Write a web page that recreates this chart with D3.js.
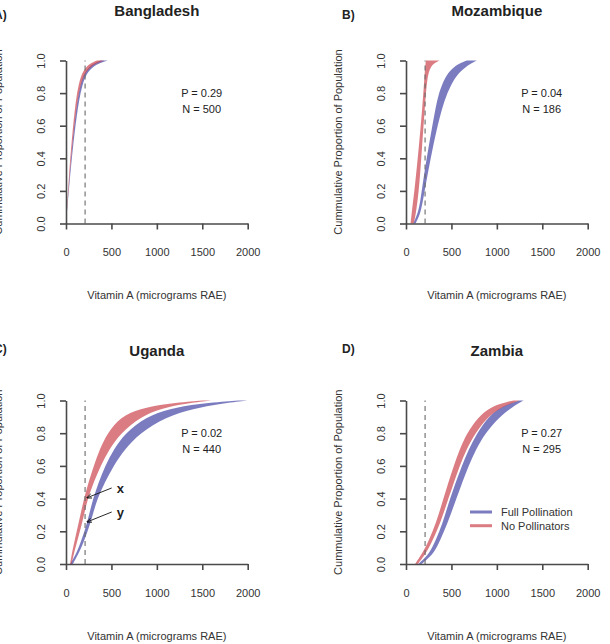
<!DOCTYPE html>
<html>
<head>
<meta charset="utf-8">
<script src="https://cdn.jsdelivr.net/npm/d3@7"></script>
<style>
  body { margin: 0; background: #ffffff; }
  svg { display: block; font-family: "Liberation Sans", Arial, sans-serif; }
</style>
</head>
<body>
<svg id="chart" width="610" height="644"></svg>
<script>
// ---------------- DATA ----------------
const countries = ["Bangladesh", "Mozambique", "Uganda", "Zambia"];
const panelLabels = ["A)", "B)", "C)", "D)"];
const pValues = ["0.29", "0.04", "0.02", "0.27"];
const nValues = [500, 186, 440, 295];
const seriesNames = ["Full Pollination", "No Pollinators"];
const xTicks = [0, 500, 1000, 1500, 2000];
const yTicks = [0, 0.2, 0.4, 0.6, 0.8, 1.0];
const requirement = 210; // dashed reference line (micrograms RAE)

// cumulative proportion levels at which band edges are read
const levels = [0, 0.05, 0.1, 0.2, 0.3, 0.4, 0.5, 0.6, 0.7, 0.8, 0.9, 0.95, 0.98, 1.0];

// Bangladesh
const bangladeshFullLo = [0, 6, 12, 26, 40, 55, 71, 90, 111, 138, 180, 235, 300, 380];
const bangladeshFullHi = [0, 8, 15, 31, 47, 64, 83, 104, 128, 158, 205, 270, 350, 460];
const bangladeshNoneLo = [0, 5, 10, 22, 34, 47, 62, 78, 97, 120, 158, 205, 260, 340];
const bangladeshNoneHi = [0, 7, 13, 27, 41, 56, 73, 92, 113, 140, 185, 250, 320, 420];
// Mozambique
const mozambiqueFullLo = [80, 120, 147, 173, 199, 228, 258, 290, 322, 360, 430, 504, 580, 670];
const mozambiqueFullHi = [105, 150, 173, 205, 238, 272, 308, 348, 393, 452, 540, 632, 710, 780];
const mozambiqueNoneLo = [50, 60, 70, 92, 111, 129, 146, 162, 177, 191, 203, 210, 215, 218];
const mozambiqueNoneHi = [85, 105, 118, 140, 155, 168, 180, 193, 206, 219, 237, 262, 300, 370];
// Uganda
const ugandaFullLo = [45, 100, 140, 205, 254, 298, 360, 430, 525, 650, 880, 1140, 1450, 1900];
const ugandaFullHi = [75, 125, 170, 240, 294, 345, 428, 522, 645, 810, 1100, 1400, 1700, 2000];
const ugandaNoneLo = [45, 60, 78, 118, 158, 198, 248, 305, 370, 455, 600, 810, 1100, 1500];
const ugandaNoneHi = [60, 82, 104, 154, 198, 240, 305, 380, 475, 600, 820, 1037, 1300, 1600];
// Zambia
const zambiaFullLo = [135, 235, 290, 370, 430, 485, 548, 614, 690, 780, 908, 1018, 1130, 1250];
const zambiaFullHi = [170, 280, 340, 420, 490, 555, 620, 688, 770, 871, 1030, 1147, 1230, 1294];
const zambiaNoneLo = [100, 160, 215, 295, 358, 412, 467, 525, 590, 669, 798, 908, 1030, 1184];
const zambiaNoneHi = [130, 200, 255, 340, 407, 467, 528, 590, 665, 761, 900, 1030, 1150, 1250];

const bands = {
  Bangladesh: [[bangladeshFullLo, bangladeshFullHi], [bangladeshNoneLo, bangladeshNoneHi]],
  Mozambique: [[mozambiqueFullLo, mozambiqueFullHi], [mozambiqueNoneLo, mozambiqueNoneHi]],
  Uganda: [[ugandaFullLo, ugandaFullHi], [ugandaNoneLo, ugandaNoneHi]],
  Zambia: [[zambiaFullLo, zambiaFullHi], [zambiaNoneLo, zambiaNoneHi]]
};

// Uganda annotations (data coords): label, from, to
const annotLabels = ["x", "y"];
const annotFrom = [[503, 0.465], [503, 0.318]];
const annotTo = [[231, 0.405], [231, 0.257]];

// ---------------- STYLE / LAYOUT ----------------
const fills = ["rgb(72,74,168)", "rgb(202,62,72)"];
const fillOpacity = [0.72, 0.68];
const axisColor = "#4a4a4a";
const panels = [
  { x0: 66,  x1: 247.7, y0: 60.5,  y1: 223.5, labelDy: -41.5, titleDy: -44.5 },
  { x0: 406, x1: 587.7, y0: 60.5,  y1: 223.5, labelDy: -41.5, titleDy: -44.5 },
  { x0: 66,  x1: 247.7, y0: 400.5, y1: 564,   labelDy: -47.5, titleDy: -44.5 },
  { x0: 406, x1: 587.7, y0: 400.5, y1: 564,   labelDy: -47.5, titleDy: -44.5 }
];

const svg = d3.select("#chart");
svg.append("rect").attr("width", 610).attr("height", 644).attr("fill", "#fff");

svg.append("defs").append("marker")
  .attr("id", "arrow").attr("viewBox", "0 0 10 10")
  .attr("refX", 9).attr("refY", 5)
  .attr("markerWidth", 6).attr("markerHeight", 6)
  .attr("orient", "auto")
  .append("path").attr("d", "M0,1 L10,5 L0,9").attr("fill", "none")
  .attr("stroke", "#111").attr("stroke-width", 1.6);

countries.forEach((country, i) => {
  const p = panels[i];
  const x = d3.scaleLinear().domain([0, 2000]).range([p.x0, p.x1]);
  const y = d3.scaleLinear().domain([0, 1]).range([p.y1, p.y0]);
  const g = svg.append("g");
  const cx = (p.x0 + p.x1) / 2;

  // bands
  bands[country].forEach((edges, s) => {
    const [lo, hi] = edges;
    const pts = levels.map((lv, k) => ({ lv, lo: lo[k], hi: hi[k] }));
    const area = d3.area()
      .y(d => y(d.lv))
      .x0(d => x(d.lo))
      .x1(d => x(d.hi))
      .curve(d3.curveBasis);
    g.append("path").datum(pts)
      .attr("d", area)
      .attr("fill", fills[s])
      .attr("fill-opacity", fillOpacity[s]);
  });

  // dashed requirement line
  g.append("line")
    .attr("x1", x(requirement)).attr("x2", x(requirement))
    .attr("y1", y(0)).attr("y2", y(1))
    .attr("stroke", "#6a6a6a").attr("stroke-width", 1.1)
    .attr("stroke-dasharray", "5,4");

  // x axis
  const xa = g.append("g").attr("transform", `translate(0,${p.y1})`)
    .call(d3.axisBottom(x).tickValues(xTicks).tickSize(6).tickSizeOuter(0).tickFormat(d3.format("d")));
  xa.selectAll("text").attr("y", 25).attr("font-size", 11).attr("fill", "#333")
    .style("font-family", "Liberation Sans, Arial, sans-serif");

  // y axis
  const ya = g.append("g").attr("transform", `translate(${p.x0},0)`)
    .call(d3.axisLeft(y).tickValues(yTicks).tickSize(6).tickSizeOuter(0).tickFormat(d3.format(".1f")));
  ya.selectAll("text")
    .attr("transform", "rotate(-90)")
    .attr("x", 0).attr("y", -21).attr("dy", 0)
    .attr("text-anchor", "middle")
    .attr("font-size", 11).attr("fill", "#333")
    .style("font-family", "Liberation Sans, Arial, sans-serif");

  [xa, ya].forEach(a => {
    a.select(".domain").attr("stroke", axisColor).attr("stroke-width", 1.6);
    a.selectAll(".tick line").attr("stroke", axisColor).attr("stroke-width", 1.6);
  });

  // titles
  g.append("text").attr("x", cx).attr("y", p.y0 + p.titleDy)
    .attr("text-anchor", "middle").attr("font-size", 15).attr("font-weight", "bold")
    .attr("fill", "#222").text(country);
  g.append("text").attr("x", p.x0 - 66 - (i % 2 === 0 ? 6 : -2)).attr("y", p.y0 + p.labelDy)
    .attr("font-size", 12).attr("font-weight", "bold").attr("fill", "#222")
    .text(panelLabels[i]);
  g.append("text").attr("x", cx).attr("y", p.y1 + 75.5)
    .attr("text-anchor", "middle").attr("font-size", 11).attr("fill", "#333")
    .text("Vitamin A (micrograms RAE)");
  g.append("text")
    .attr("transform", `translate(${p.x0 - 64},${(p.y0 + p.y1) / 2}) rotate(-90)`)
    .attr("text-anchor", "middle").attr("font-size", 11).attr("fill", "#333")
    .text("Cummulative Proportion of Population");

  // P and N
  g.append("text").attr("x", p.x0 + 135.7).attr("y", p.y0 + 36.5)
    .attr("text-anchor", "middle").attr("font-size", 11).attr("fill", "#222")
    .text(`P = ${pValues[i]}`);
  g.append("text").attr("x", p.x0 + 135.7).attr("y", p.y0 + 52.5)
    .attr("text-anchor", "middle").attr("font-size", 11).attr("fill", "#222")
    .text(`N = ${nValues[i]}`);

  // Uganda arrows
  if (country === "Uganda") {
    annotLabels.forEach((lab, k) => {
      g.append("line")
        .attr("x1", x(annotFrom[k][0])).attr("y1", y(annotFrom[k][1]))
        .attr("x2", x(annotTo[k][0])).attr("y2", y(annotTo[k][1]))
        .attr("stroke", "#111").attr("stroke-width", 0.9)
        .attr("marker-end", "url(#arrow)");
      g.append("text")
        .attr("x", x(annotFrom[k][0]) + 5).attr("y", y(annotFrom[k][1]) + 5)
        .attr("font-size", 13).attr("font-weight", "bold").attr("fill", "#222")
        .text(lab);
    });
  }

  // legend in Zambia
  if (country === "Zambia") {
    seriesNames.forEach((name, s) => {
      const ly = p.y0 + 111.5 + s * 13.7;
      g.append("line").attr("x1", p.x0 + 64).attr("x2", p.x0 + 86)
        .attr("y1", ly).attr("y2", ly)
        .attr("stroke", fills[s]).attr("stroke-opacity", fillOpacity[s]).attr("stroke-width", 3);
      g.append("text").attr("x", p.x0 + 95).attr("y", ly + 4)
        .attr("font-size", 11).attr("fill", "#333").text(name);
    });
  }
});
</script>
</body>
</html>
